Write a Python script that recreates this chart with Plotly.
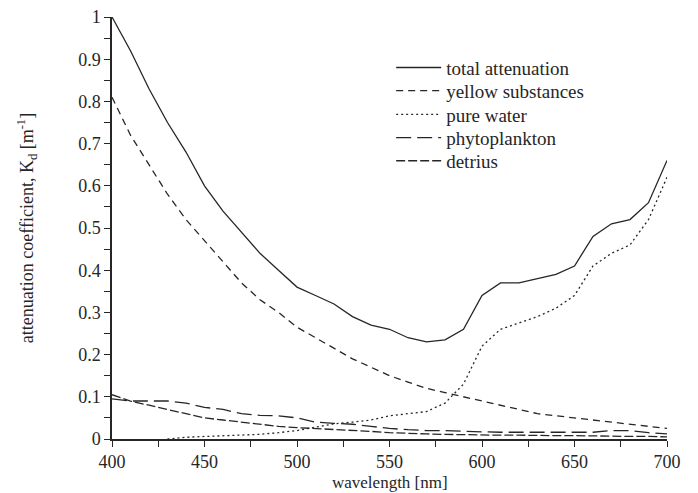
import plotly.graph_objects as go

# wavelength grid (nm)
wavelength = list(range(400, 701, 10))

total_attenuation = [1.0, 0.92, 0.83, 0.75, 0.68, 0.60, 0.54, 0.49, 0.44, 0.40,
                     0.36, 0.34, 0.32, 0.29, 0.27, 0.26, 0.24, 0.23, 0.235, 0.26,
                     0.34, 0.37, 0.37, 0.38, 0.39, 0.41, 0.48, 0.51, 0.52, 0.56, 0.66]
yellow_substances = [0.81, 0.72, 0.65, 0.58, 0.52, 0.47, 0.42, 0.37, 0.33, 0.30,
                     0.265, 0.24, 0.215, 0.19, 0.17, 0.15, 0.135, 0.12, 0.11, 0.10,
                     0.09, 0.08, 0.07, 0.06, 0.055, 0.05, 0.045, 0.04, 0.035, 0.03, 0.025]
pure_water = [None, None, None, 0.0, 0.004, 0.006, 0.008, 0.009, 0.011, 0.015,
              0.02, 0.028, 0.036, 0.04, 0.045, 0.055, 0.06, 0.065, 0.085, 0.13,
              0.22, 0.26, 0.275, 0.29, 0.31, 0.34, 0.41, 0.44, 0.46, 0.52, 0.62]
phytoplankton = [0.095, 0.09, 0.09, 0.09, 0.085, 0.075, 0.07, 0.06, 0.056, 0.055,
                 0.05, 0.04, 0.037, 0.035, 0.03, 0.025, 0.022, 0.02, 0.02, 0.018,
                 0.017, 0.016, 0.016, 0.015, 0.015, 0.015, 0.016, 0.02, 0.02, 0.015, 0.012]
detritus = [0.105, 0.09, 0.08, 0.07, 0.06, 0.05, 0.045, 0.04, 0.035, 0.03,
            0.027, 0.025, 0.022, 0.02, 0.018, 0.015, 0.013, 0.012, 0.011, 0.01,
            0.01, 0.009, 0.009, 0.008, 0.008, 0.008, 0.007, 0.007, 0.006, 0.006, 0.005]

x_ticks = [400, 450, 500, 550, 600, 650, 700]
y_ticks = [0, 0.1, 0.2, 0.3, 0.4, 0.5, 0.6, 0.7, 0.8, 0.9, 1]
y_ticklabels = ["0", "0.1", "0.2", "0.3", "0.4", "0.5", "0.6", "0.7", "0.8", "0.9", "1"]

INK = "#262626"
FONT = "Liberation Serif"

series = [
    ("total attenuation", total_attenuation, "solid"),
    ("yellow substances", yellow_substances, "7px,5px"),
    ("pure water", pure_water, "2px,3px"),
    ("phytoplankton", phytoplankton, "15px,6px"),
    ("detrius", detritus, "9px,3px"),
]

# one small legend per series, so the row spacing can be tighter than plotly's default
legend_ids = ["legend", "legend2", "legend3", "legend4", "legend5"]
legend_rows = [0.88, 0.825, 0.769, 0.714, 0.659]

fig = go.Figure()
for (name, vals, dash), lid in zip(series, legend_ids):
    fig.add_trace(go.Scatter(
        x=wavelength, y=vals, name=name, mode="lines",
        line=dict(color=INK, width=1.3, dash=dash),
        connectgaps=False, legend=lid,
    ))

legends = {
    lid: dict(
        x=0.503, y=ly, xanchor="left", yanchor="middle",
        bgcolor="rgba(0,0,0,0)", font=dict(family=FONT, size=19, color=INK),
        itemwidth=45,
    )
    for lid, ly in zip(legend_ids, legend_rows)
}

# the page body adds an 8px offset, so margins are trimmed by 8 on the top/left
fig.update_layout(
    width=698, height=493,
    margin=dict(l=104, r=39, t=9, b=62),
    paper_bgcolor="white", plot_bgcolor="white",
    font=dict(family=FONT, size=18, color=INK),
    showlegend=True,
    **legends,
    xaxis=dict(
        range=[400, 700], tickvals=x_ticks, automargin=False,
        showgrid=False, zeroline=False, showline=True, linecolor=INK, linewidth=1.5,
        ticks="outside", ticklen=6, tickcolor=INK, tickwidth=1.2,
        minor=dict(dtick=25, tick0=400, ticks="outside", ticklen=6, tickcolor=INK),
        tickfont=dict(family=FONT, size=18), ticklabeloverflow="allow",
    ),
    yaxis=dict(
        range=[0, 1], tickvals=y_ticks, ticktext=y_ticklabels, automargin=False,
        showgrid=False, zeroline=False, showline=True, linecolor=INK, linewidth=1.5,
        ticks="outside", ticklen=6, tickcolor=INK, tickwidth=1.2,
        minor=dict(dtick=0.05, tick0=0, ticks="outside", ticklen=6, tickcolor=INK),
        tickfont=dict(family=FONT, size=18), ticklabeloverflow="allow",
        title=dict(text="attenuation coefficient, K<sub>d</sub> [m<sup>-1</sup>]",
                   font=dict(family=FONT, size=18), standoff=40),
    ),
)

# x-axis title as an annotation so it sits inside the bottom margin
fig.add_annotation(
    text="wavelength [nm]", xref="paper", yref="paper",
    x=0.5, y=-0.104, xanchor="center", yanchor="middle",
    showarrow=False, font=dict(family=FONT, size=17, color=INK),
)

fig.write_html("out.html")
